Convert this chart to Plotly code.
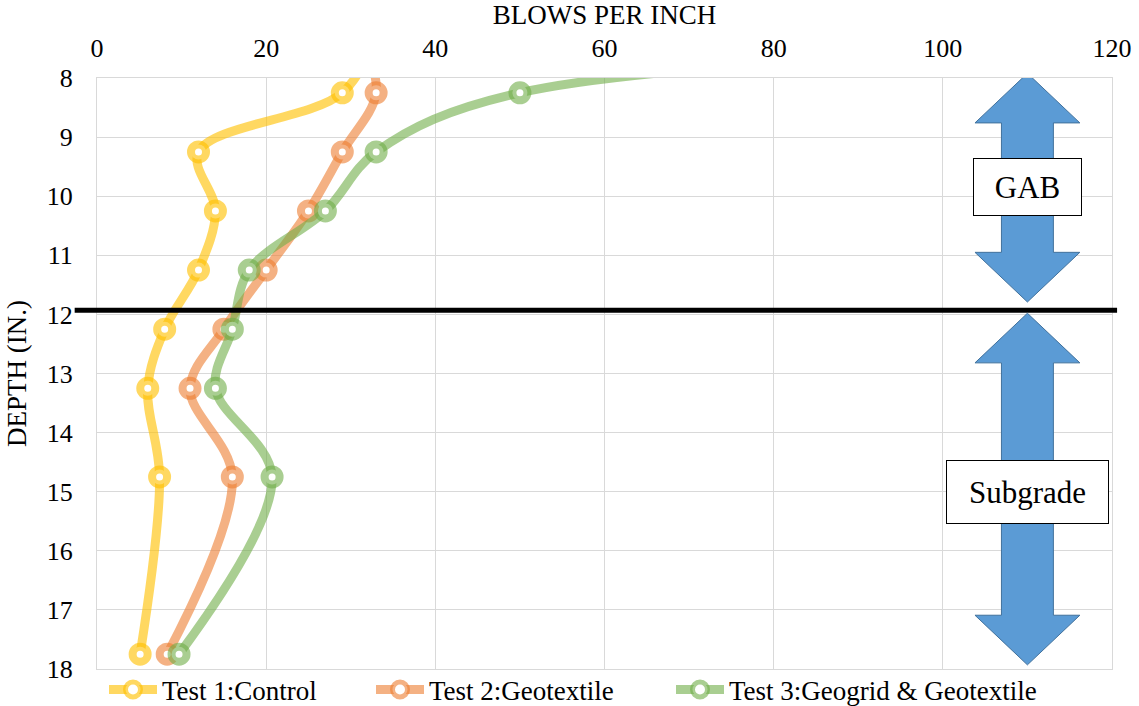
import plotly.graph_objects as go

# Data (depth in inches, blows per inch). First point of each series lies above the plotted range.
depth = [7.25, 8.25, 9.25, 10.25, 11.25, 12.25, 13.25, 14.75, 17.75]
test1 = [33, 29, 12, 14, 12, 8, 6, 7.4, 5.1]
test2 = [31, 33, 29, 25, 20, 15, 11, 16, 8.3]
test3 = [180, 50, 33, 27, 18, 16, 14, 20.7, 9.7]
names = ["Test 1:Control", "Test 2:Geotextile", "Test 3:Geogrid & Geotextile"]
colors = ["rgba(255,192,0,0.62)", "rgba(237,125,49,0.6)", "rgba(112,173,71,0.6)"]
legend_ids = ["legend", "legend2", "legend3"]
legend_text_x = [163, 430, 730]  # px where legend text starts

FONT = "Times New Roman, Liberation Serif, Tinos, DejaVu Serif, Noto Serif, serif"

fig = go.Figure()
for vals, name, col, lg in zip([test1, test2, test3], names, colors, legend_ids):
    fig.add_trace(go.Scatter(
        x=vals, y=depth, name=name, mode="lines+markers", legend=lg,
        line=dict(color=col, width=9, shape="spline", smoothing=1),
        marker=dict(symbol="circle", size=15, color="white", line=dict(color=col, width=8)),
    ))

# boundary line
fig.add_shape(type="line", xref="paper", yref="y", x0=-0.022, x1=1.005, y0=11.93, y1=11.93,
              line=dict(color="black", width=5), layer="above")

def double_arrow(xc, ytop, ybot, head_h=0.84, head_w=6.2, shaft_w=3.07):
    pts = [
        (xc, ytop), (xc + head_w, ytop + head_h), (xc + shaft_w, ytop + head_h),
        (xc + shaft_w, ybot - head_h), (xc + head_w, ybot - head_h), (xc, ybot),
        (xc - head_w, ybot - head_h), (xc - shaft_w, ybot - head_h),
        (xc - shaft_w, ytop + head_h), (xc - head_w, ytop + head_h),
    ]
    return "M " + " L ".join(f"{x},{y}" for x, y in pts) + " Z"

fig.add_shape(type="path", path=double_arrow(110, 7.92, 11.79), xref="x", yref="y",
              fillcolor="#5B9BD5", line=dict(color="#41719C", width=1), layer="above")
fig.add_shape(type="path", path=double_arrow(110, 11.98, 17.93), xref="x", yref="y",
              fillcolor="#5B9BD5", line=dict(color="#41719C", width=1), layer="above")

fig.add_annotation(x=110, y=9.84, xref="x", yref="y", text="GAB", showarrow=False,
                   font=dict(family=FONT, size=31, color="black"), bgcolor="white",
                   bordercolor="black", borderwidth=1, width=105, height=54)
fig.add_annotation(x=110, y=15.0, xref="x", yref="y", text="Subgrade", showarrow=False,
                   font=dict(family=FONT, size=31, color="black"), bgcolor="white",
                   bordercolor="black", borderwidth=1, width=159, height=60)

W, H = 1139, 706
legends = {}
for lg, tx in zip(legend_ids, legend_text_x):
    legends[lg] = dict(orientation="h", xref="container", x=(tx - 59) / W, xanchor="left",
                       yref="container", y=16 / H, yanchor="middle",
                       font=dict(family=FONT, size=27, color="black"), itemwidth=48,
                       bgcolor="rgba(0,0,0,0)")

fig.update_layout(
    width=W, height=H,
    margin=dict(l=97, r=27, t=78, b=37, autoexpand=False),
    paper_bgcolor="white", plot_bgcolor="white",
    font=dict(family=FONT, size=26, color="black"),
    showlegend=True,
    **legends,
    xaxis=dict(side="top", range=[0, 120], dtick=20, showgrid=True, gridcolor="#D9D9D9",
               gridwidth=1, showline=True, mirror=True, linecolor="#D9D9D9", zeroline=False,
               ticks="", tickfont=dict(family=FONT, size=26), ticklabelstandoff=10,
               title=dict(text="BLOWS PER INCH", font=dict(family=FONT, size=27), standoff=2)),
    yaxis=dict(range=[18, 8], dtick=1, showgrid=True, gridcolor="#D9D9D9", gridwidth=1,
               showline=True, mirror=True, linecolor="#D9D9D9", zeroline=False, ticks="",
               tickfont=dict(family=FONT, size=26), ticklabelstandoff=18,
               title=dict(text="DEPTH (IN.)", font=dict(family=FONT, size=27), standoff=12)),
)

fig.write_html("out.html")
